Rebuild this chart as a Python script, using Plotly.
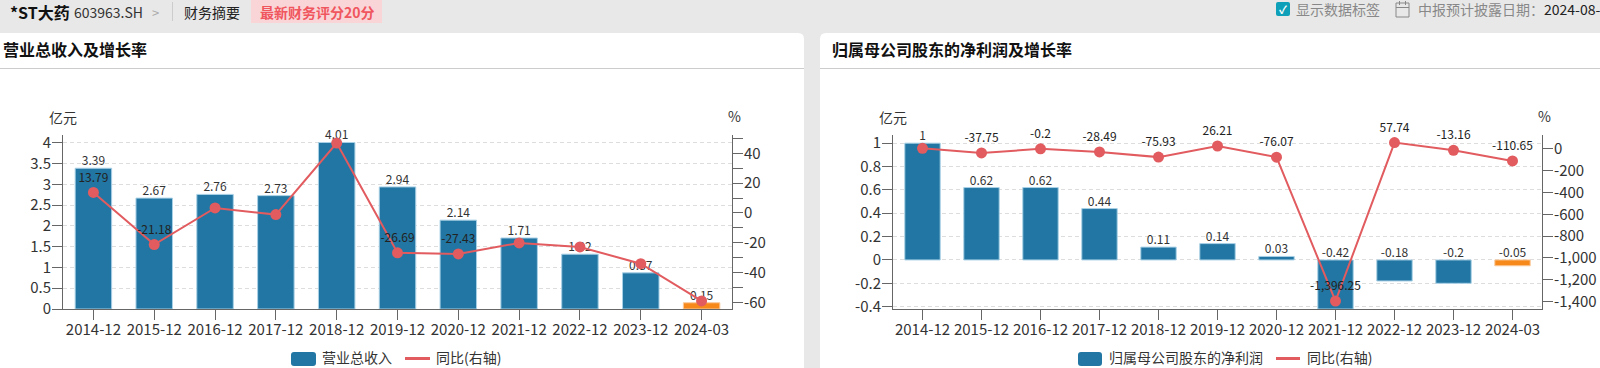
import plotly.graph_objects as go

W, H = 1600, 368
FONT = "Noto Sans CJK SC"
BAR, ORANGE, LINE = "#2276a3", "#f7891b", "#e15b5f"
INK, AXIS = "#333333", "#666666"

periods = ["2014-12", "2015-12", "2016-12", "2017-12", "2018-12", "2019-12",
           "2020-12", "2021-12", "2022-12", "2023-12", "2024-03"]

revenue = [3.39, 2.67, 2.76, 2.73, 4.01, 2.94, 2.14, 1.71, 1.32, 0.87, 0.15]
revenue_yoy = [13.79, -21.18, 3.37, -1.09, 46.89, -26.69, -27.43, -20.09, -22.8, -34.0, -59.0]
revenue_yoy_labels = ["13.79", "-21.18", "", "", "", "-26.69", "-27.43", "", "", "", ""]

profit = [1, 0.62, 0.62, 0.44, 0.11, 0.14, 0.03, -0.42, -0.18, -0.2, -0.05]
profit_yoy = [5, -37.75, -0.2, -28.49, -75.93, 26.21, -76.07, -1396.25, 57.74, -13.16, -110.65]
profit_yoy_labels = ["", "-37.75", "-0.2", "-28.49", "-75.93", "26.21", "-76.07", "-1,396.25",
                     "57.74", "-13.16", "-110.65"]

rev_ticks = [0, 0.5, 1, 1.5, 2, 2.5, 3, 3.5, 4]
rev_pct_ticks = [-60, -50, -40, -30, -20, -10, 0, 10, 20, 30, 40, 50]
rev_pct_text = ["-60", "", "-40", "", "-20", "", "0", "", "20", "", "40", ""]
pro_ticks = [-0.4, -0.2, 0, 0.2, 0.4, 0.6, 0.8, 1]
pro_pct_ticks = [-1400, -1200, -1000, -800, -600, -400, -200, 0]
pro_pct_text = ["-1,400", "-1,200", "-1,000", "-800", "-600", "-400", "-200", "0"]


def px(x):
    return x / W


def py(y):
    return 1 - y / H


fig = go.Figure()


def add_chart(values, yoy, yoy_labels, xa, ya, yb, name):
    xr, yr, yr2 = xa.replace("axis", ""), ya.replace("axis", ""), yb.replace("axis", "")
    colors = [ORANGE if p == "2024-03" else BAR for p in periods]
    edges = ["#f9c99a" if p == "2024-03" else "#a8d0e6" for p in periods]
    fig.add_trace(go.Bar(x=periods, y=values, name=name, width=0.6, xaxis=xr, yaxis=yr,
                         marker=dict(color=colors, line=dict(color=edges, width=1)),
                         showlegend=False))
    fig.add_trace(go.Scatter(x=periods, y=[max(v, 0) for v in values], mode="text",
                             text=[str(v) for v in values], textposition="top center",
                             textfont=dict(size=12, color=INK, family=FONT),
                             xaxis=xr, yaxis=yr, cliponaxis=False, showlegend=False))
    fig.add_trace(go.Scatter(x=periods, y=yoy, mode="lines+markers+text", name="同比(右轴)",
                             text=yoy_labels, textposition="top center",
                             textfont=dict(size=12, color="#222222", family=FONT),
                             line=dict(color=LINE, width=2), marker=dict(color=LINE, size=11),
                             xaxis=xr, yaxis=yr2, cliponaxis=False, showlegend=False))


add_chart(revenue, revenue_yoy, revenue_yoy_labels, "xaxis", "yaxis", "yaxis2", "营业总收入")
add_chart(profit, profit_yoy, profit_yoy_labels, "xaxis2", "yaxis3", "yaxis4", "归属母公司股东的净利润")

tickfont = dict(size=15, color=INK, family=FONT)
y_dom = [py(309), py(135)]
common_x = dict(type="category", categoryorder="array", categoryarray=periods, showgrid=False,
                showline=True, linecolor=AXIS, linewidth=1, ticks="outside", ticklen=10,
                tickcolor=AXIS, tickfont=tickfont, tickangle=0, range=[-0.5, 10.5], zeroline=False,
                automargin=False, ticklabelstandoff=-3)
common_y = dict(showline=True, linecolor=AXIS, linewidth=1, ticks="outside", ticklen=10,
                tickcolor=AXIS, tickfont=tickfont, zeroline=False, domain=y_dom, automargin=False,
                ticklabelstandoff=-2)

fig.update_layout(
    width=W, height=H, margin=dict(l=0, r=0, t=0, b=0, pad=0), autosize=False,
    paper_bgcolor="#e8e8e8", plot_bgcolor="rgba(0,0,0,0)", showlegend=False,
    bargap=0.4, font=dict(family=FONT, color=INK),
    xaxis=dict(common_x, domain=[px(63), px(732)], anchor="y"),
    yaxis=dict(common_y, anchor="x", range=[0, 4.19], tickmode="array", tickvals=rev_ticks,
               ticktext=[f"{t:g}" for t in rev_ticks], showgrid=True, gridcolor="#dddddd",
               griddash="4px,3px", gridwidth=1),
    yaxis2=dict(common_y, anchor="x", overlaying="y", side="right", range=[-64.4, 52.3],
                tickmode="array", tickvals=rev_pct_ticks, ticktext=rev_pct_text, showgrid=False),
    xaxis2=dict(common_x, domain=[px(893), px(1542)], anchor="y3"),
    yaxis3=dict(common_y, anchor="x2", range=[-0.42, 1.07], tickmode="array", tickvals=pro_ticks,
                ticktext=[f"{t:g}" for t in pro_ticks], showgrid=True, gridcolor="#dddddd",
                griddash="4px,3px", gridwidth=1),
    yaxis4=dict(common_y, anchor="x2", overlaying="y3", side="right", range=[-1469, 127],
                tickmode="array", tickvals=pro_pct_ticks, ticktext=pro_pct_text, showgrid=False),
)


def rounded(x0, y0, x1, y1, r, color):
    X0, X1, Y0, Y1, RX, RY = px(x0), px(x1), py(y0), py(y1), r / W, r / H
    return dict(type="path", xref="paper", yref="paper", layer="below", fillcolor=color,
                line=dict(width=0),
                path=f"M{X0},{Y0 - RY} Q{X0},{Y0} {X0 + RX},{Y0} L{X1 - RX},{Y0} Q{X1},{Y0} {X1},{Y0 - RY} "
                     f"L{X1},{Y1 + RY} Q{X1},{Y1} {X1 - RX},{Y1} L{X0 + RX},{Y1} Q{X0},{Y1} {X0},{Y1 + RY} Z")


def pline(x0, y0, x1, y1, color, width=1, layer="below"):
    return dict(type="line", xref="paper", yref="paper", layer=layer, x0=px(x0), x1=px(x1),
                y0=py(y0), y1=py(y1), line=dict(color=color, width=width))


def prect(x0, y0, x1, y1, fill, edge=None, layer="above"):
    return dict(type="rect", xref="paper", yref="paper", layer=layer, x0=px(x0), x1=px(x1),
                y0=py(y0), y1=py(y1), fillcolor=fill,
                line=dict(color=edge or fill, width=1 if edge else 0))


shapes = [
    rounded(-10, 33, 804, 380, 6, "#ffffff"),
    rounded(820, 33, 1610, 380, 6, "#ffffff"),
    pline(0, 68.5, 804, 68.5, "#cccccc"),
    pline(820, 68.5, 1600, 68.5, "#cccccc"),
    pline(172.5, 2, 172.5, 21, "#cccccc"),
    prect(251, 0, 382, 23, "#f9d5d8", layer="below"),
    rounded(1276, 2, 1290, 16, 2, "#0ea0b8"),
    prect(1396, 3, 1409, 17, "rgba(0,0,0,0)", "#888888"),
    pline(1396, 7.5, 1409, 7.5, "#888888"),
    pline(1399.5, 1, 1399.5, 5, "#888888"),
    pline(1405.5, 1, 1405.5, 5, "#888888"),
    rounded(291, 352, 316, 366, 3, BAR),
    rounded(1078, 352, 1102, 366, 3, BAR),
    pline(405, 358.5, 430, 358.5, LINE, 3, "above"),
    pline(1276, 358.5, 1300, 358.5, LINE, 3, "above"),
]
fig.update_layout(shapes=shapes)


def label(x, y, text, size=14, color=INK, anchor="left"):
    return dict(x=px(x), y=py(y), xref="paper", yref="paper", text=text, showarrow=False,
                xanchor=anchor, yanchor="middle", align="left", borderpad=0,
                font=dict(size=size, color=color, family=FONT))


fig.update_layout(annotations=[
    label(9, 12, "<b>*ST大药</b>", 16, "#111111"),
    label(73, 12, "603963.SH", 14, "#333333"),
    label(151, 12, ">", 13, "#aaaaaa"),
    label(183, 12, "财务摘要", 14, "#222222"),
    label(259, 12, "<b>最新财务评分20分</b>", 14, "#f0565e"),
    label(1283, 9, "<b>✓</b>", 11, "#ffffff", "center"),
    label(1295, 9, "显示数据标签", 14, "#888888"),
    label(1417, 9, "中报预计披露日期：", 14, "#888888"),
    label(1543, 9, "2024-08-", 14, "#222222"),
    label(2, 49, "<b>营业总收入及增长率</b>", 16, "#111111"),
    label(831, 49, "<b>归属母公司股东的净利润及增长率</b>", 16, "#111111"),
    label(48, 117, "亿元"),
    label(727, 116, "%"),
    label(878, 117, "亿元"),
    label(1537, 116, "%"),
    label(321, 357, "营业总收入"),
    label(435, 357, "同比(右轴)"),
    label(1108, 357, "归属母公司股东的净利润"),
    label(1306, 357, "同比(右轴)"),
])

fig.write_html("out.html", config={"displayModeBar": False},
               post_script="document.body.style.margin='0';document.body.style.overflow='hidden';")
